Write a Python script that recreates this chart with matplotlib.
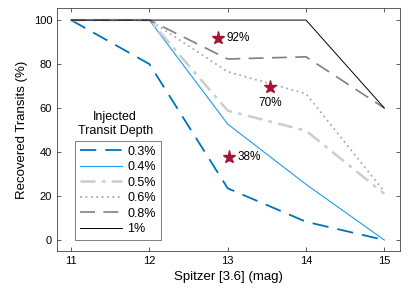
import numpy as np
import matplotlib
matplotlib.use("Agg")
import matplotlib.pyplot as plt

# Spitzer magnitudes
mag = [11, 12, 13, 14, 15]

# recovered transits (%) per injected depth
d03 = [100, 80, 23.5, 8.3, 0]
d04 = [100, 100, 52.7, 25.3, 0]
d05 = [100, 100, 58.8, 49.7, 21]
d06 = [100, 100, 76.5, 66.5, 22]
d08 = [100, 100, 82.3, 83.3, 60]
d10 = [100, 100, 100, 100, 60]

# observed planets (stars)
star_x = [12.88, 13.54, 13.02]
star_y = [91.8, 69.8, 37.9]
star_lbl = ["92%", "70%", "38%"]

plt.rcParams['font.family'] = ['Liberation Sans', 'DejaVu Sans']
fig = plt.figure(figsize=(4.15, 2.97), dpi=100)
ax = fig.add_axes([57/415, 46/297, 343/415, 243/297])

ax.plot(mag, d03, color='#0072BD', lw=1.3, dashes=(9, 5), label='0.3%')
ax.plot(mag, d04, color='#1E9CF0', lw=0.8, label='0.4%')
ax.plot(mag, d05, color='#CCCCCC', lw=1.8, dashes=(6, 2.5, 1.5, 2.5), label='0.5%')
ax.plot(mag, d06, color='#AAAAAA', lw=1.3, dashes=(1, 2), label='0.6%')
ax.plot(mag, d08, color='#808080', lw=1.2, dashes=(9, 5), label='0.8%')
ax.plot(mag, d10, color='black', lw=0.7, label='1%')

ax.plot(star_x, star_y, '*', color='#A2142F', ms=9.5, ls='none')
ax.text(star_x[0] + 0.1, star_y[0], star_lbl[0], fontsize=8.5, va='center')
ax.text(star_x[1], star_y[1] - 7.5, star_lbl[1], fontsize=8.5, va='center', ha='center')
ax.text(star_x[2] + 0.1, star_y[2], star_lbl[2], fontsize=8.5, va='center')

ax.set_xlim(10.82, 15.2)
ax.set_ylim(-5, 105.5)
ax.set_xticks(mag)
ax.set_yticks([0, 20, 40, 60, 80, 100])
ax.tick_params(direction='in', top=True, right=True, labelsize=8, length=3, width=0.6, color='#444444')
for s in ax.spines.values():
    s.set_linewidth(0.6)
    s.set_color('#444444')
ax.set_xlabel('Spitzer [3.6] (mag)', fontsize=9.5)
ax.set_ylabel('Recovered Transits (%)', fontsize=9.5)

leg = ax.legend(loc='lower left', bbox_to_anchor=(0.052, 0.045), fontsize=9, frameon=True,
                fancybox=False, handlelength=3.4, handletextpad=0.4, labelspacing=0.28,
                borderpad=0.4, borderaxespad=0)
leg.get_frame().set_edgecolor('#444444')
leg.get_frame().set_linewidth(0.6)
ax.text(0.17, 0.47, 'Injected\nTransit Depth', transform=ax.transAxes, fontsize=9,
        ha='center', va='bottom', linespacing=1.15)

fig.savefig('out.png', dpi=100)
